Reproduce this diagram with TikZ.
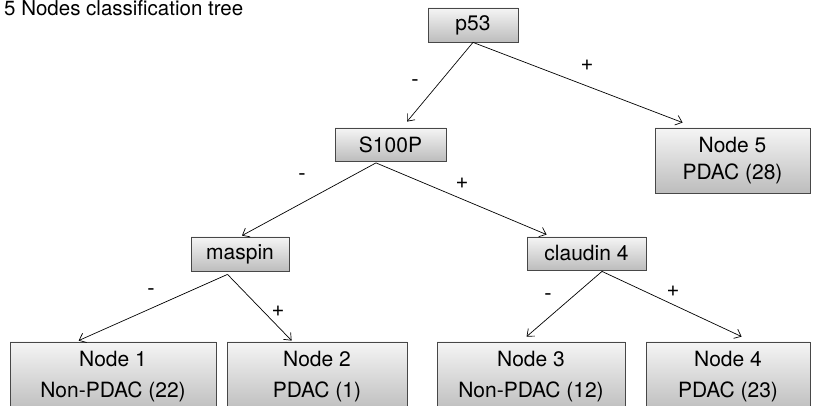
\documentclass[tikz,border=0pt]{standalone}
\usepackage{fontspec}
\setmainfont{TeX Gyre Heros}
\usetikzlibrary{arrows.meta,calc}
\begin{document}
\begin{tikzpicture}[x=1pt,y=-1pt,
  box/.style={draw=black!72, line width=0.8pt, top color=black!4, bottom color=black!26, inner sep=0pt, align=center, font=\fontsize{21}{27}\selectfont},
  leaf/.style={box, font=\fontsize{21}{31}\selectfont},
  edge/.style={draw=black, line width=0.7pt, -{Straight Barb[length=6pt,width=10pt]}},
  sign/.style={inner sep=0pt, font=\fontsize{22}{25}\selectfont}]
\useasboundingbox (0,0) rectangle (823,406);
\node[anchor=base west, inner sep=0pt, font=\fontsize{20.5}{24}\selectfont] (title) at (4,15.5) {5 Nodes classification tree};
% internal nodes
\node[box, minimum width=90pt, minimum height=34pt] (p53) at (473,25) {p53};
\node[box, minimum width=111pt, minimum height=33pt] (s100p) at (390.5,144.5) {S100P};
\node[box, minimum width=98pt, minimum height=34pt] (maspin) at (240,254) {maspin};
\node[box, minimum width=119pt, minimum height=33pt] (claudin) at (586.5,253.5) {claudin 4};
% leaves
\node[box, minimum width=155pt, minimum height=65pt] (n5) at (732.5,160.5) {Node 5\\PDAC (28)};
\node[leaf, minimum width=206pt, minimum height=70pt] (n1) at (113,377) {Node 1\\Non-PDAC (22)};
\node[leaf, minimum width=180pt, minimum height=70pt] (n2) at (317,377) {Node 2\\PDAC (1)};
\node[leaf, minimum width=188pt, minimum height=70pt] (n3) at (531,377) {Node 3\\Non-PDAC (12)};
\node[leaf, minimum width=164pt, minimum height=70pt] (n4) at (728,377) {Node 4\\PDAC (23)};
% connectors
\draw[edge] (p53.south) -- ($(s100p.north)+(16.5,-6)$);
\draw[edge] (p53.south) -- ($(n5.north west)+(28,-5)$);
\draw[edge] ($(s100p.south)+(-14.5,1.5)$) -- ($(maspin.north)+(2,-1)$);
\draw[edge] ($(s100p.south)+(-14.5,1.5)$) -- ($(claudin.north west)+(20,-2)$);
\draw[edge] ($(maspin.south)+(-12.5,3)$) -- ($(n1.north west)+(69,-1)$);
\draw[edge] ($(maspin.south)+(-12.5,3)$) -- ($(n2.north west)+(65,-1)$);
\draw[edge] ($(claudin.south)+(15.5,1)$) -- ($(n3.north west)+(90,-5)$);
\draw[edge] ($(claudin.south)+(15.5,1)$) -- ($(n4.north west)+(96,-5)$);
% signs
\node[sign] (l1) at (415,83) {-};
\node[sign] (r1) at (587,65) {+};
\node[sign] (l2) at (302,177) {-};
\node[sign] (r2) at (462,183) {+};
\node[sign] (l3) at (151,292) {-};
\node[sign] (r3) at (278,311) {+};
\node[sign] (l4) at (548,297) {-};
\node[sign] (r4) at (673,291) {+};
\end{tikzpicture}
\end{document}
